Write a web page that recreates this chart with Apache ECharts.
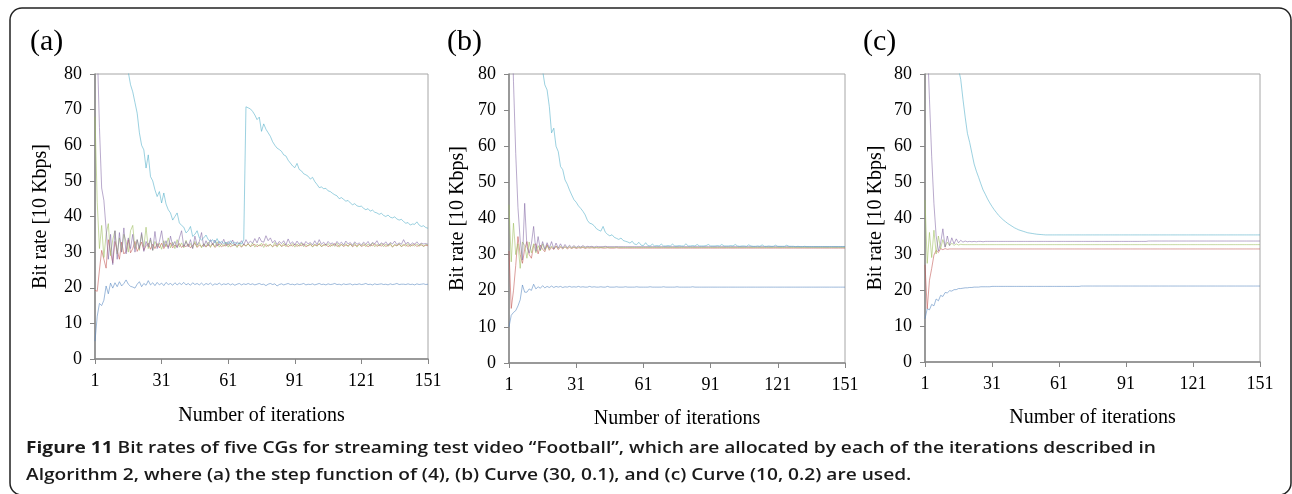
<!DOCTYPE html>
<html><head><meta charset="utf-8">
<script src="https://cdn.jsdelivr.net/npm/echarts@6/dist/echarts.min.js"></script>
<style>html,body{margin:0;padding:0;background:#fff}#c{width:1292px;height:494px}</style>
</head><body><div id="c"></div>
<script>
// ---------- DATA ----------
const xTickLabels = ['1','31','61','91','121','151'];
const seriesNames = ['CG1','CG2','CG3','CG4','CG5'];
const panelLabels = ['(a)','(b)','(c)'];
const yAxisTitle = 'Bit rate [10 Kbps]';
const xAxisTitle = 'Number of iterations';
const captionBold = 'Figure 11';
const captionLine1 = ' Bit rates of five CGs for streaming test video \u201cFootball\u201d, which are allocated by each of the iterations described in';
const captionLine2 = 'Algorithm 2, where (a) the step function of (4), (b) Curve (30, 0.1), and (c) Curve (10, 0.2) are used.';

// Panel (a): step function of (4)
const A_blue = [
5,12,15.6,15,16.5,20.5,18.3,21.3,19.9,21.4,
20.3,21.7,20.5,21.2,22.2,21,20.4,20.2,19.9,21,
21.7,20.3,21.2,20.7,22,20.8,21.4,20.6,21.5,20.8,
21.3,20.6,21.5,20.9,21.2,20.7,21.4,20.8,21.3,20.9,
21.5,20.8,21.2,20.7,21.4,20.9,21.2,20.8,21.3,20.7,
21.2,20.9,21.3,20.7,21.1,20.9,21.3,20.8,21.1,20.9,
21.2,20.8,21.1,20.7,21,21.2,20.8,21.1,20.9,21.2,
20.9,21.1,20.8,21,21.2,20.9,21,20.6,21,21.2,
20.9,21.1,20.5,20.9,21.1,20.8,21,21.2,20.9,21,
20.8,21.1,20.9,21,21.2,20.8,21,20.9,21.1,20.8,
21,21.2,20.9,21,20.8,21.1,20.9,21,21.2,20.9,
21,20.8,21.1,20.9,21,21.1,20.8,21,20.9,21.1,
20.9,21,21.2,20.9,21,20.8,21.1,20.9,21,21.1,
20.9,21,20.8,21.1,20.9,21,21.2,20.9,21,21,
20.9,21.1,20.9,21,20.8,21.1,20.9,21,21.1,20.9,
21];
const A_red = [
19.3,19,25,30.5,28,25.5,33.5,30,27,33,
30.5,28,32.8,29.5,30.2,33.5,29.8,31,33,30.2,
31.5,32.8,30.5,31.8,32.5,30.8,32.2,31,32.4,31.2,
32.5,31,32.2,31.4,32.6,31.2,32,31.5,32.4,31.3,
32,31.5,32.3,31.2,31.9,32.5,31.3,32,31.6,32.2,
31.4,32.1,31.6,32.4,31.3,31.9,32.2,31.5,32,31.7,
32.3,31.5,31.9,32.2,31.6,32,31.4,32.1,31.8,32.3,
31.6,31.9,32.2,31.5,32,31.7,32.3,31.6,31.9,32.1,
31.5,32,31.8,32.4,31.6,31.9,32.1,31.5,32,31.7,
32.2,31.6,32,31.8,32.3,31.5,31.9,32.1,31.6,32,
31.8,32.3,31.6,31.9,32.2,31.5,32,31.8,32.4,31.6,
31.9,32.1,31.6,32,31.8,32.3,31.5,32,31.7,32.2,
31.6,31.9,32.1,31.5,32,31.8,32.3,31.6,32,31.7,
32.2,31.6,31.9,32.1,31.5,32,31.8,32.2,31.6,31.9,
32.1,31.6,32,31.8,32.2,31.6,31.9,32,31.7,31.9,
31.8];
const A_olive = [
68,44,31,37.5,28.5,35,38,29,33.5,36,
29.5,34,30,35,33,30,36,37.5,31,33.5,
30.5,35,31.5,37,31,33.5,30.5,33,31.5,32.5,
30.8,33.2,31.5,34,31.2,32.8,31,33.5,31.4,32.6,
31.2,33.3,31.6,32.4,31.1,33,31.5,32.7,31.2,32.4,
31.6,32.8,31.3,32.5,31.5,32.9,31.4,32.3,31.6,32.7,
31.4,32.5,31.7,32.2,31.3,32.6,31.5,32.3,31.6,32.4,
31.5,32.6,31.4,32.2,31.7,32.5,31.3,32.4,31.6,32.2,
31.5,32.7,31.4,32.3,31.6,32.5,31.5,32.2,31.7,32.4,
31.4,32.3,31.6,32.5,31.5,32.2,31.7,32.4,31.4,32.3,
31.6,32.5,31.5,32.2,31.7,32.4,31.5,32.3,31.6,32.5,
31.4,32.2,31.7,32.4,31.5,32.3,31.6,32.5,31.4,32.2,
31.7,32.4,31.5,32.3,31.6,32.6,31.5,32.2,31.7,32.4,
31.5,32.3,31.6,32.5,31.4,32.2,31.7,32.4,31.5,32.3,
31.6,32.4,31.5,32.2,31.7,32.3,31.6,32.4,31.5,32.2,
32];
const A_purple = [
120,88,65,48,44.5,36.5,28,35,26.5,36,
28,35.5,30,36.8,29.5,34,31,35,30,33.5,
31,35.5,30.2,33,31.5,34,30.5,35.8,31,33,
36,31.5,33.2,31,34.5,31.8,33,31.2,34,36,
31.5,33,31.5,33.5,31,34.5,32,33,35.5,31.5,
33.2,31.8,33.5,32,33.4,31.7,33,32.2,33.6,31.9,
33,32.2,33.4,31.8,32.9,32.3,33.2,32,33.5,32.4,
33.1,32.5,33.8,32.6,34.2,33,32.8,34.6,33.2,34,
32.6,33.3,32.1,33,32.4,33.2,32,33.7,32.3,32.9,
32,33.1,32.2,32.8,31.9,33,32.3,32.7,32,33.2,
32.1,33.5,32.2,32.8,32,33,32.3,32.6,31.9,33,
32.2,32.8,32,33.1,32.3,32.7,31.9,32.9,32.2,32.6,
32,32.8,32.2,33,31.9,32.7,32.3,33.2,32,32.6,
32.2,32.9,32,32.7,32.3,33.1,32.1,32.6,32.2,33.5,
32.3,32.8,32,32.6,32.2,32.9,32.1,32.5,32.3,32.4,
32.2];
const A_aqua = [
160,150,141,133,126,119,113,108,103,98,
94,90,87,84,82,80.5,77,75,72,69,
63.5,60,58.7,53.6,57.3,51.2,50,47.5,45.6,47,
43.8,46.6,43.5,41.9,41,39,40,41,38.2,37.5,
37,35.4,36,37.2,34.4,35,36,34,33.4,34,
34.8,33.5,33,33.5,32.6,33.8,32.5,33,32.4,32.8,
32.2,33.2,32.4,32.8,32.2,32.6,32.3,33.5,70.8,70.5,
70.2,69.5,68.5,67.2,67.9,63.9,66,64.5,63.5,62.5,
61,60,59.2,58.8,58.3,57.3,57,55.8,55,54.2,
53.7,54.9,53.2,52.8,52,51.7,51.3,50.5,51,49.8,
49,48.1,48.3,47.8,47.9,47.2,47,46.5,46.1,45.8,
45,45.3,44.8,44.3,44.5,43.8,43.3,43.6,43,42.8,
42.9,42.3,41.9,42.2,41.5,41.8,41.2,41,40.6,40.9,
40.3,40,40.4,39.8,39.6,39.9,39.3,39,39.2,38.6,
38.1,38.3,37.6,37.9,37.8,38.5,37.6,37.2,37.4,36.9,
36.7];

// Panel (b): Curve (30, 0.1)
const B_blue = [
10,13.2,14,14.5,15.8,17.5,21.6,19.6,19.6,20.5,
20.1,21.8,20.5,21.1,20.7,21.4,20.8,21.2,20.9,21.3,
20.9,21.2,21,21.2,20.9,21.1,21,21.2,21,21.1,
21,21.2,21,21.1,21,21,21.2,21,21.1,21,
21,21.1,21,21,21.2,21,21,21,21.1,21,
21,21,21.1,21,21,21,21,21.1,21,21,
21,21,21,21.1,21,21,21,21,21,21.1,
21,21,21,21,21,21.1,21,21,21,21,
21,21,21.1,21,21,21,21,21,21,21,
21,21,21,21,21,21,21,21,21,21,
21,21,21,21,21,21,21,21,21,21,
21,21,21,21,21,21,21,21,21,21,
21,21,21,21,21,21,21,21,21,21,
21,21,21,21,21,21,21,21,21,21,
21,21,21,21,21,21,21,21,21,21,
21];
const B_red = [
31,15.1,20,27,35,30,27.6,31.5,33.6,30,
29,32.5,33,30.2,32.6,31.5,30.8,32.8,31.2,32,
31.4,32.4,31.4,32.1,31.6,32.2,31.6,32,31.7,32,
31.7,31.9,31.8,32,31.7,31.9,31.8,31.9,31.8,31.9,
31.8,31.9,31.8,31.8,31.9,31.8,31.8,31.8,31.9,31.8,
31.8,31.8,31.8,31.8,31.8,31.8,31.8,31.8,31.8,31.8,
31.8,31.8,31.8,31.8,31.8,31.8,31.8,31.8,31.8,31.8,
31.8,31.8,31.8,31.8,31.8,31.8,31.8,31.8,31.8,31.8,
31.8,31.8,31.8,31.8,31.8,31.8,31.8,31.8,31.8,31.8,
31.8,31.8,31.8,31.8,31.8,31.8,31.8,31.8,31.8,31.8,
31.8,31.8,31.8,31.8,31.8,31.8,31.8,31.8,31.8,31.8,
31.8,31.8,31.8,31.8,31.8,31.8,31.8,31.8,31.8,31.8,
31.8,31.8,31.8,31.8,31.8,31.8,31.8,31.8,31.8,31.8,
31.8,31.8,31.8,31.8,31.8,31.8,31.8,31.8,31.8,31.8,
31.8,31.8,31.8,31.8,31.8,31.8,31.8,31.8,31.8,31.8,
31.8];
const B_olive = [
43.8,28,38.7,30,33,26.2,33.5,32.5,29,33.5,
30.5,33,30.5,32.5,31,33,31.2,32.5,31.5,32.4,
31.6,32.3,31.7,32.4,31.7,32.2,31.8,32.3,31.8,32.2,
31.9,32.1,31.9,32.2,31.9,32.1,32,32.1,31.9,32,
32,32,32,32.1,32,32,32,32,32.1,32,
32,32,32,32,32,32,32,32,32,32,
32,32,32,32,32,32,32,32,32,32,
32,32,32,32,32,32,32,32,32,32,
32,32,32,32,32,32,32,32,32,32,
32,32,32,32,32,32,32,32,32,32,
32,32,32,32,32,32,32,32,32,32,
32,32,32,32,32,32,32,32,32,32,
32,32,32,32,32,32,32,32,32,32,
32,32,32,32,32,32,32,32,32,32,
32,32,32,32,32,32,32,32,32,32,
32];
const B_purple = [
140,100,78,58,43,34,28.5,44.2,32.2,30.4,
33,37.8,30.9,35,31.3,33.6,31.5,33.3,31.8,33.6,
31.6,33.2,31.8,33,31.8,32.8,31.9,32.6,32,32.5,
32,32.4,32.1,32.5,32.1,32.3,32.2,32.3,32.1,32.3,
32.2,32.2,32.2,32.3,32.2,32.2,32.2,32.2,32.2,32.2,
32.2,32.2,32.2,32.2,32.2,32.2,32.2,32.2,32.2,32.2,
32.2,32.2,32.2,32.2,32.2,32.2,32.2,32.2,32.2,32.2,
32.2,32.2,32.2,32.2,32.2,32.2,32.2,32.2,32.2,32.2,
32.2,32.2,32.2,32.2,32.2,32.2,32.2,32.2,32.2,32.2,
32.2,32.2,32.2,32.2,32.2,32.2,32.2,32.2,32.2,32.2,
32.2,32.2,32.2,32.2,32.2,32.2,32.2,32.2,32.2,32.2,
32.2,32.2,32.2,32.2,32.2,32.2,32.2,32.2,32.2,32.2,
32.2,32.2,32.2,32.2,32.2,32.2,32.2,32.2,32.2,32.2,
32.2,32.2,32.2,32.2,32.2,32.2,32.2,32.2,32.2,32.2,
32.2,32.2,32.2,32.2,32.2,32.2,32.2,32.2,32.2,32.2,
32.2];
const B_aqua = [
170,158,148,139,131,124,117,111,106,101,
97,93,89,86,83,81,77,75.6,71,63.7,
65,60,58.5,54.4,53.5,50.7,49.5,47.9,46.5,45.2,
44.5,43.5,42.8,42,41,39.5,38.7,38.5,38,37.2,
36.8,36.5,37.8,36.2,35.6,35.2,35.5,34.8,34.5,34.2,
34.6,33.9,33.7,33.5,33.2,33.7,32.9,32.8,33.4,32.6,
32.5,33.3,32.5,32.4,32.9,32.4,32.5,32.4,32.9,32.4,
32.4,32.5,32.4,32.9,32.4,32.4,32.5,32.4,32.4,33,
32.4,32.4,32.5,32.4,32.8,32.4,32.4,32.4,32.5,32.8,
32.4,32.4,32.4,32.5,32.4,32.8,32.4,32.4,32.4,32.5,
32.4,32.8,32.4,32.3,32.4,32.4,32.3,32.7,32.4,32.3,
32.3,32.4,32.3,32.7,32.3,32.3,32.4,32.3,32.3,32.6,
32.3,32.3,32.3,32.3,32.6,32.3,32.3,32.3,32.2,32.3,
32.2,32.2,32.3,32.2,32.2,32.2,32.2,32.2,32.2,32.2,
32.2,32.2,32.2,32.2,32.2,32.2,32.2,32.2,32.2,32.2,
32.2];

// Panel (c): Curve (10, 0.2)
const C_blue = [
12,14.8,14.5,16,15.6,17.5,17,18.5,18.2,19.3,
19.2,19.8,19.7,20.1,20.1,20.4,20.4,20.5,20.6,20.6,
20.7,20.7,20.8,20.8,20.8,20.9,20.9,20.9,20.9,20.9,
21,21,21,21,21,21,21,21,21,21,
21,21,21,21,21,21,21,21,21,21,
21,21,21,21,21,21,21,21,21,21,
21,21,21,21,21,21,21,21,21,21,
21.1,21.1,21.1,21.1,21.1,21.1,21.1,21.1,21.1,21.1,
21.1,21.1,21.1,21.1,21.1,21.1,21.1,21.1,21.1,21.1,
21.1,21.1,21.1,21.1,21.1,21.1,21.1,21.1,21.1,21.1,
21.1,21.1,21.1,21.1,21.1,21.1,21.1,21.1,21.1,21.1,
21.1,21.1,21.1,21.1,21.1,21.1,21.1,21.1,21.1,21.1,
21.1,21.1,21.1,21.1,21.1,21.1,21.1,21.1,21.1,21.1,
21.1,21.1,21.1,21.1,21.1,21.1,21.1,21.1,21.1,21.1,
21.1,21.1,21.1,21.1,21.1,21.1,21.1,21.1,21.1,21.1,
21.1];
const C_red = [
27,14.8,22.7,26,29.7,31,30.4,31.5,31.2,31.5,
31.3,31.4,31.4,31.4,31.4,31.4,31.4,31.4,31.4,31.4,
31.4,31.4,31.4,31.4,31.4,31.4,31.4,31.4,31.4,31.4,
31.4,31.4,31.4,31.4,31.4,31.4,31.4,31.4,31.4,31.4,
31.4,31.4,31.4,31.4,31.4,31.4,31.4,31.4,31.4,31.4,
31.4,31.4,31.4,31.4,31.4,31.4,31.4,31.4,31.4,31.4,
31.4,31.4,31.4,31.4,31.4,31.4,31.4,31.4,31.4,31.4,
31.4,31.4,31.4,31.4,31.4,31.4,31.4,31.4,31.4,31.4,
31.4,31.4,31.4,31.4,31.4,31.4,31.4,31.4,31.4,31.4,
31.4,31.4,31.4,31.4,31.4,31.4,31.4,31.4,31.4,31.4,
31.4,31.4,31.4,31.4,31.4,31.4,31.4,31.4,31.4,31.4,
31.4,31.4,31.4,31.4,31.4,31.4,31.4,31.4,31.4,31.4,
31.4,31.4,31.4,31.4,31.4,31.4,31.4,31.4,31.4,31.4,
31.4,31.4,31.4,31.4,31.4,31.4,31.4,31.4,31.4,31.4,
31.4,31.4,31.4,31.4,31.4,31.4,31.4,31.4,31.4,31.4,
31.4];
const C_olive = [
45,27.4,36,29,36.6,30,35,31.5,34,32,
33.3,32.3,33,32.4,32.8,32.5,32.7,32.6,32.6,32.6,
32.6,32.6,32.6,32.6,32.6,32.6,32.6,32.6,32.6,32.6,
32.6,32.6,32.6,32.6,32.6,32.6,32.6,32.6,32.6,32.6,
32.6,32.6,32.6,32.6,32.6,32.6,32.6,32.6,32.6,32.6,
32.6,32.6,32.6,32.6,32.6,32.6,32.6,32.6,32.6,32.6,
32.6,32.6,32.6,32.6,32.6,32.6,32.6,32.6,32.6,32.6,
32.6,32.6,32.6,32.6,32.6,32.6,32.6,32.6,32.6,32.6,
32.6,32.6,32.6,32.6,32.6,32.6,32.6,32.6,32.6,32.6,
32.6,32.6,32.6,32.6,32.6,32.6,32.6,32.6,32.6,32.6,
32.6,32.6,32.6,32.6,32.6,32.6,32.6,32.6,32.6,32.6,
32.6,32.6,32.6,32.6,32.6,32.6,32.6,32.6,32.6,32.6,
32.6,32.6,32.6,32.6,32.6,32.6,32.6,32.6,32.6,32.6,
32.6,32.6,32.6,32.6,32.6,32.6,32.6,32.6,32.6,32.6,
32.6,32.6,32.6,32.6,32.6,32.6,32.6,32.6,32.6,32.6,
32.6];
const C_purple = [
200,90,73,57,44,35,30.8,33,37,31.9,
35,32.4,34.5,32.8,34.2,33.1,33.8,33.3,33.6,33.4,
33.5,33.4,33.5,33.4,33.5,33.5,33.4,33.5,33.5,33.5,
33.5,33.5,33.5,33.5,33.5,33.5,33.5,33.5,33.5,33.5,
33.5,33.5,33.5,33.5,33.5,33.5,33.5,33.5,33.5,33.5,
33.5,33.5,33.5,33.5,33.5,33.5,33.5,33.5,33.5,33.5,
33.5,33.5,33.5,33.5,33.5,33.5,33.5,33.5,33.5,33.5,
33.5,33.5,33.5,33.5,33.5,33.5,33.5,33.5,33.5,33.5,
33.5,33.5,33.5,33.5,33.5,33.5,33.5,33.5,33.5,33.5,
33.5,33.5,33.5,33.5,33.5,33.5,33.5,33.5,33.5,33.5,
33.6,33.6,33.6,33.6,33.6,33.6,33.6,33.6,33.6,33.6,
33.6,33.6,33.6,33.6,33.6,33.6,33.6,33.6,33.6,33.6,
33.6,33.6,33.6,33.6,33.6,33.6,33.6,33.6,33.6,33.6,
33.6,33.6,33.6,33.6,33.6,33.6,33.6,33.6,33.6,33.6,
33.6,33.6,33.6,33.6,33.6,33.6,33.6,33.6,33.6,33.6,
33.6];
const C_aqua = [
190,175,162,150,140,131,123,116,109,103,
98,93,89,85,82,81.5,78.5,73,68,63.5,
61,58,55,53,51.3,49.5,47.8,46.6,45.3,44.2,
43.2,42.3,41.5,40.7,40.1,39.5,39,38.5,38.1,37.7,
37.3,37,36.7,36.5,36.3,36.1,35.9,35.8,35.7,35.6,
35.5,35.45,35.4,35.35,35.3,35.3,35.3,35.3,35.3,35.3,
35.3,35.3,35.3,35.3,35.3,35.3,35.3,35.3,35.3,35.3,
35.3,35.3,35.3,35.3,35.3,35.3,35.3,35.3,35.3,35.3,
35.3,35.3,35.3,35.3,35.3,35.3,35.3,35.3,35.3,35.3,
35.3,35.3,35.3,35.3,35.3,35.3,35.3,35.3,35.3,35.3,
35.3,35.3,35.3,35.3,35.3,35.3,35.3,35.3,35.3,35.3,
35.3,35.3,35.3,35.3,35.3,35.3,35.3,35.3,35.3,35.3,
35.3,35.3,35.3,35.3,35.3,35.3,35.3,35.3,35.3,35.3,
35.3,35.3,35.3,35.3,35.3,35.3,35.3,35.3,35.3,35.3,
35.3,35.3,35.3,35.3,35.3,35.3,35.3,35.3,35.3,35.3,
35.3];

// ---------- BUILD ----------
const iterations = [];
for (let i = 1; i <= 151; i++) iterations.push(String(i));

const panelSeries = [
  [A_blue, A_red, A_olive, A_purple, A_aqua],
  [B_blue, B_red, B_olive, B_purple, B_aqua],
  [C_blue, C_red, C_olive, C_purple, C_aqua]
];
const colors = ['#4F81BD', '#C0504D', '#9BBB59', '#8064A2', '#4BACC6'];

const grids = [
  {left: 95, top: 74, width: 333, height: 285, yNameGap: 44, xNameGap: 47, labelX: 30},
  {left: 509, top: 74, width: 336, height: 289, yNameGap: 41, xNameGap: 46, labelX: 447},
  {left: 925, top: 74, width: 335, height: 288, yNameGap: 39, xNameGap: 46, labelX: 863}
];

const serif = 'Liberation Serif';
const axisGray = '#868686';
const capFont = 'Open Sans';

const option = {
  animation: false,
  backgroundColor: '#fff',
  grid: grids.map(g => ({left: g.left, top: g.top, width: g.width, height: g.height,
    show: true, borderColor: '#a6a6a6', borderWidth: 1, backgroundColor: 'transparent'})),
  xAxis: grids.map((g, k) => ({
    gridIndex: k, type: 'category', data: iterations, boundaryGap: false,
    axisLine: {show: true, lineStyle: {color: axisGray, width: 1.5}},
    axisTick: {show: true, interval: 29, length: 5, lineStyle: {color: axisGray, width: 1}},
    axisLabel: {interval: 29, margin: 13, fontFamily: serif, fontSize: 18, color: '#000'},
    splitLine: {show: false},
    name: xAxisTitle, nameLocation: 'middle', nameGap: g.xNameGap,
    nameTextStyle: {fontFamily: serif, fontSize: 20, color: '#000'}
  })),
  yAxis: grids.map((g, k) => ({
    gridIndex: k, type: 'value', min: 0, max: 80, interval: 10,
    axisLine: {show: true, lineStyle: {color: axisGray, width: 1.5}},
    axisTick: {show: true, length: 5, lineStyle: {color: axisGray, width: 1}},
    axisLabel: {margin: 13, fontFamily: serif, fontSize: 18, color: '#000'},
    splitLine: {show: false},
    name: yAxisTitle, nameLocation: 'middle', nameGap: g.yNameGap,
    nameTextStyle: {fontFamily: serif, fontSize: 20, color: '#000'}
  })),
  series: [],
  graphic: [
    {type: 'rect', silent: true, shape: {x: 10, y: 8, width: 1281, height: 487, r: 12},
     style: {fill: 'none', stroke: '#222', lineWidth: 1.5}},
    ...grids.map((g, k) => ({type: 'text', silent: true, x: g.labelX, y: 42,
      style: {text: panelLabels[k], fontFamily: serif, fontSize: 30, fill: '#000', align: 'left', verticalAlign: 'middle'}})),
    {type: 'text', silent: true, x: 26, y: 449, scaleX: 1.235,
     style: {text: '{b|' + captionBold + '}{n|' + captionLine1 + '}', verticalAlign: 'middle', align: 'left',
       rich: {b: {fontFamily: capFont, fontSize: 15.5, fontWeight: 700, fill: '#1a1a1a'},
              n: {fontFamily: capFont, fontSize: 15.5, fontWeight: 600, fill: '#1a1a1a'}}}},
    {type: 'text', silent: true, x: 26, y: 476, scaleX: 1.235,
     style: {text: captionLine2, verticalAlign: 'middle', align: 'left',
       fontFamily: capFont, fontSize: 15.5, fontWeight: 600, fill: '#1a1a1a'}}
  ]
};

panelSeries.forEach((arrs, k) => {
  arrs.forEach((arr, s) => {
    option.series.push({
      name: seriesNames[s], type: 'line', xAxisIndex: k, yAxisIndex: k,
      data: arr, symbol: 'none', showSymbol: false, clip: true, silent: true,
      lineStyle: {color: colors[s], width: 1, opacity: 0.55},
      itemStyle: {color: colors[s]}
    });
  });
});

const chart = echarts.init(document.getElementById('c'), null, {renderer: 'canvas', width: 1292, height: 494});
chart.setOption(option);
</script>
</body></html>
